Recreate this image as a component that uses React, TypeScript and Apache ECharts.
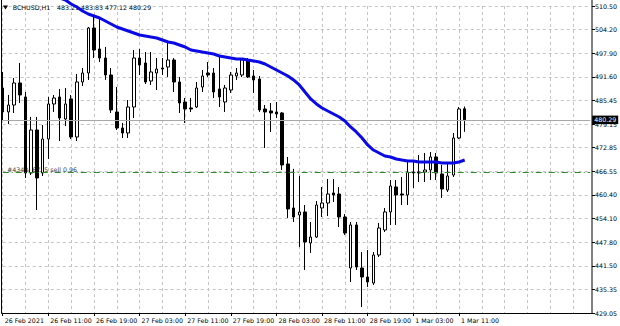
import { useEffect, useRef } from 'react';
import * as echarts from 'echarts';

// ---- data ----
const timeLabels = [
  '26 Feb 2021', '26 Feb 11:00', '26 Feb 19:00', '27 Feb 03:00', '27 Feb 11:00',
  '27 Feb 19:00', '28 Feb 03:00', '28 Feb 11:00', '28 Feb 19:00', '1 Mar 03:00', '1 Mar 11:00',
];
const priceLabels = [
  '429.05', '435.35', '441.50', '447.80', '454.10', '460.40', '466.55',
  '472.85', '479.15', '485.45', '491.60', '497.90', '504.20', '510.50',
];
const opens = [
  488.74, 482.38, 484.23, 490.07, 486.36, 466.19, 477.60, 466.19, 475.21, 484.50,
  486.36, 480.52, 485.83, 475.74, 490.34, 492.72, 504.66, 499.09, 496.70, 492.19,
  482.38, 478.13, 476.81, 483.70, 496.70, 495.38, 490.60, 492.72, 494.05, 494.31,
  496.17, 490.34, 485.03, 483.44, 483.70, 489.01, 492.72, 492.72, 488.48, 485.03,
  488.21, 491.93, 492.19, 496.17, 491.93, 491.13, 483.17, 482.64, 482.38, 482.11,
  468.58, 456.91, 455.05, 455.85, 447.62, 449.21, 456.91, 458.23, 460.89, 460.62,
  454.52, 440.99, 452.40, 440.99, 438.60, 437.01, 444.44, 451.07, 455.85, 462.48,
  460.62, 460.36, 466.46, 466.46, 466.46, 466.99, 470.44, 465.92, 461.68, 465.66,
  475.48, 483.21,
];
const closes = [
  482.38, 484.23, 490.07, 486.89, 466.19, 477.60, 464.87, 475.21, 484.50, 486.09,
  480.78, 484.50, 475.74, 490.34, 492.72, 504.66, 498.82, 496.70, 492.19, 482.91,
  478.13, 476.81, 483.70, 496.70, 494.85, 490.34, 492.99, 493.78, 493.78, 496.17,
  490.34, 484.76, 483.17, 483.17, 488.74, 491.93, 492.19, 487.68, 486.36, 488.74,
  492.19, 492.72, 496.17, 491.66, 490.87, 482.91, 482.38, 482.11, 481.85, 468.32,
  456.64, 454.52, 455.85, 447.89, 449.21, 457.70, 458.23, 460.62, 460.36, 454.52,
  450.27, 452.40, 441.25, 438.60, 437.27, 444.44, 451.60, 455.85, 462.74, 460.36,
  460.36, 466.46, 466.19, 466.19, 466.99, 470.44, 466.19, 461.95, 465.40, 475.48,
  483.17, 480.29,
];
const lows = [
  480.25, 479.19, 482.11, 484.76, 464.87, 465.66, 456.38, 465.40, 469.91, 482.38,
  474.68, 478.66, 475.21, 474.68, 489.27, 490.87, 496.70, 495.64, 490.87, 482.11,
  477.60, 475.48, 475.48, 480.78, 492.19, 489.80, 489.54, 488.21, 492.19, 491.66,
  487.68, 482.11, 479.46, 482.38, 483.44, 487.68, 491.66, 486.09, 483.70, 482.38,
  487.42, 490.87, 491.66, 491.40, 487.42, 482.38, 472.83, 477.07, 480.78, 466.99,
  454.25, 453.19, 446.56, 440.46, 445.00, 448.95, 454.52, 454.78, 458.50, 451.86,
  449.74, 437.27, 440.46, 430.64, 435.95, 436.50, 443.90, 450.54, 452.40, 452.40,
  457.70, 457.70, 462.21, 463.80, 463.80, 464.34, 464.34, 459.56, 461.15, 465.13,
  475.21, 477.12,
];
const highs = [
  492.99, 486.89, 491.40, 495.38, 487.68, 481.05, 481.05, 478.93, 486.36, 486.89,
  488.48, 488.74, 486.89, 492.46, 494.05, 504.93, 507.58, 507.05, 499.62, 494.05,
  489.01, 479.46, 485.56, 498.82, 499.09, 498.29, 498.29, 496.70, 496.70, 500.68,
  496.70, 491.66, 486.09, 486.09, 490.34, 493.52, 495.64, 494.05, 496.97, 489.54,
  492.99, 494.05, 496.70, 496.70, 493.52, 491.93, 484.23, 484.76, 485.03, 482.38,
  470.44, 467.30, 465.40, 457.70, 453.19, 458.76, 462.48, 464.60, 464.60, 462.48,
  455.30, 453.19, 453.19, 445.23, 445.76, 445.23, 452.93, 456.91, 464.34, 464.34,
  465.13, 469.11, 469.11, 470.97, 471.50, 471.76, 471.50, 468.32, 468.85, 476.81,
  483.70, 483.83,
];
const maValues = [
  null, null, null, null, null, null, null, null, null, 513.42,
  512.62, 512.09, 511.03, 510.23, 509.17, 508.38, 507.85, 507.31, 506.52, 505.72,
  504.93, 504.40, 503.87, 503.34, 502.80, 502.54, 502.27, 502.01, 501.48, 500.95,
  500.68, 500.15, 499.62, 498.82, 498.56, 498.29, 498.03, 497.76, 497.23, 496.97,
  496.70, 496.44, 496.44, 496.17, 495.91, 495.64, 495.11, 494.31, 493.52, 492.72,
  491.93, 490.87, 489.54, 487.68, 485.83, 484.50, 483.44, 482.64, 481.85, 481.05,
  479.99, 478.40, 477.07, 475.48, 473.62, 472.29, 471.50, 470.70, 470.44, 469.91,
  469.64, 469.38, 469.38, 469.11, 469.11, 469.11, 469.11, 468.85, 468.85, 468.85,
  469.11, 469.64,
];
const bidPrice = 480.29;
const sellPrice = 466.3;
const headerSymbol = 'BCHUSD,H1';
const headerValues = '483.21 483.83 477.12 480.29';
const orderText = '#434346725 sell 0.96';

const TOTAL_SLOTS = 104;
const Y_MIN = 429.05;
const Y_STEP = 6.265;
const Y_MAX = 510.495;
const FONT = '"DejaVu Sans", Tahoma, sans-serif';
const FS = 6.3;

export default function App() {
  const ref = useRef<HTMLDivElement>(null);
  useEffect(() => {
    document.body.style.margin = '0';
    const chart = echarts.init(ref.current!, null, { renderer: 'svg' });
    const categories = Array.from({ length: TOTAL_SLOTS }, (_, i) => String(i));
    const candleData = opens.map((o, i) => [o, closes[i], lows[i], highs[i]]);
    const showTime = (i: number) => i % 8 === 0 && i / 8 < timeLabels.length;

    chart.setOption({
      animation: false,
      backgroundColor: '#ffffff',
      grid: { left: 2.7, right: 29.8, top: 6, bottom: 13 },
      xAxis: {
        type: 'category',
        data: categories,
        boundaryGap: false,
        axisLine: { show: false },
        axisTick: { show: true, length: 3, interval: showTime, lineStyle: { color: '#000' } },
        axisLabel: {
          interval: showTime,
          formatter: (_v: string, i: number) => timeLabels[i / 8] ?? '',
          align: 'left',
          margin: 4,
          padding: [0, 0, 0, 2],
          fontSize: FS,
          fontFamily: FONT,
          color: '#000',
        },
        splitLine: { show: true, interval: 3, lineStyle: { color: '#c4c4c4', type: [3, 3], width: 1 } },
      },
      yAxis: {
        type: 'value',
        position: 'right',
        min: Y_MIN,
        max: Y_MAX,
        interval: Y_STEP,
        offset: 1.8,
        axisLine: { show: false },
        axisTick: { show: true, length: 3, lineStyle: { color: '#000' } },
        axisLabel: {
          margin: 3,
          fontSize: FS,
          fontFamily: FONT,
          color: '#000',
          formatter: (v: number) => {
            const k = Math.round((v - Y_MIN) / Y_STEP);
            return Math.abs(v - (Y_MIN + k * Y_STEP)) < 0.05 ? priceLabels[k] ?? '' : '';
          },
        },
        splitLine: { show: true, lineStyle: { color: '#c4c4c4', type: [3, 3], width: 1 } },
      },
      series: [
        {
          type: 'candlestick',
          data: candleData,
          barWidth: 3,
          z: 3,
          itemStyle: {
            color: '#ffffff',
            color0: '#000000',
            borderColor: '#000000',
            borderColor0: '#000000',
            borderWidth: 1,
          },
          markLine: {
            symbol: ['none', 'none'],
            silent: true,
            animation: false,
            data: [
              {
                yAxis: bidPrice,
                lineStyle: { color: '#a8a8a8', type: 'solid', width: 1 },
                label: {
                  show: true,
                  position: 'end',
                  formatter: bidPrice.toFixed(2),
                  backgroundColor: '#000',
                  color: '#fff',
                  fontSize: FS,
                  fontFamily: FONT,
                  padding: [1.5, 2, 1, 2],
                  distance: 2,
                },
              },
              {
                yAxis: sellPrice,
                lineStyle: { color: '#2a8a2a', type: [6, 3, 1, 3], width: 1 },
                label: { show: false },
              },
            ],
          },
        },
        {
          type: 'line',
          data: maValues,
          showSymbol: false,
          symbol: 'none',
          clip: false,
          z: 5,
          lineStyle: { color: '#0a0ae6', width: 3 },
        },
      ],
      graphic: [
        {
          type: 'polyline',
          z: 10,
          shape: { points: [[1.5, 0], [1.5, 313.5], [592, 313.5], [592, 0]] },
          style: { stroke: '#000', fill: 'none', lineWidth: 1 },
        },
        {
          type: 'polygon',
          z: 1,
          shape: { points: [[3, 5.5], [8, 5.5], [5.5, 9.5]] },
          style: { fill: '#000' },
        },
        {
          type: 'text',
          z: 1,
          x: 12.7,
          y: 7.5,
          style: { text: headerSymbol, fontSize: FS, fontFamily: FONT, fill: '#000', verticalAlign: 'middle' },
        },
        {
          type: 'text',
          z: 1,
          x: 57,
          y: 7.5,
          style: { text: headerValues, fontSize: FS, fontFamily: FONT, fill: '#000', verticalAlign: 'middle' },
        },
        {
          type: 'text',
          z: 1,
          x: 7,
          y: 169,
          style: { text: orderText, fontSize: FS, fontFamily: FONT, fill: '#444', verticalAlign: 'middle' },
        },
      ],
    });
    return () => chart.dispose();
  }, []);
  return <div ref={ref} style={{ width: 620, height: 326 }} />;
}
